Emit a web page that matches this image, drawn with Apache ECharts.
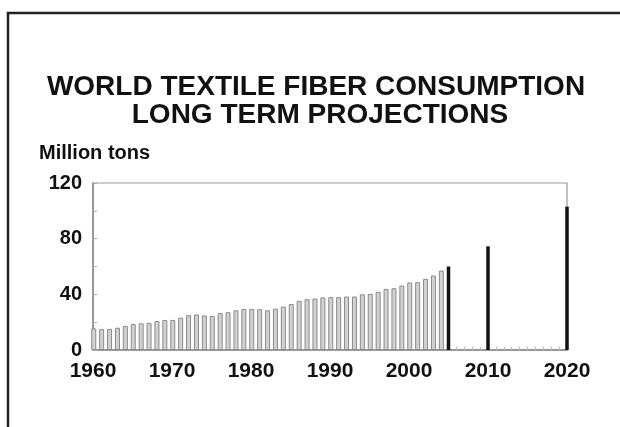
<!DOCTYPE html>
<html><head><meta charset="utf-8">
<script src="https://cdn.jsdelivr.net/npm/echarts@6/dist/echarts.min.js"></script>
<style>html,body{margin:0;padding:0;background:#fff}#c{width:620px;height:427px}</style>
</head><body><div id="c"></div>
<script>
const histYears = [1960,1961,1962,1963,1964,1965,1966,1967,1968,1969,1970,1971,1972,1973,1974,1975,1976,1977,1978,1979,1980,1981,1982,1983,1984,1985,1986,1987,1988,1989,1990,1991,1992,1993,1994,1995,1996,1997,1998,1999,2000,2001,2002,2003,2004];
const histValues = [15.5,15.0,15.2,16.0,17.3,18.6,19.2,19.5,20.8,21.5,21.6,23.2,25.0,25.5,24.8,24.5,26.5,27.2,28.5,29.5,29.5,29.3,28.5,29.7,31.2,33.0,35.3,36.5,37.0,37.8,38.0,38.0,38.4,38.4,40.0,40.3,41.8,43.9,44.4,46.3,48.5,48.7,51.1,53.5,57.1];
const projYears = [2005,2010,2020];
const projValues = [60.0,74.5,103.0];
const yTicks = [0,40,80,120];
const title1 = 'WORLD TEXTILE FIBER CONSUMPTION';
const title2 = 'LONG TERM PROJECTIONS';
const unitLabel = 'Million tons';

const chart = echarts.init(document.getElementById('c'));
const ff = 'Liberation Sans, Arial, sans-serif';
const lab = {fontFamily:ff, fontWeight:'bold', color:'#111'};
chart.setOption({
  backgroundColor:'#fff',
  animation:false,
  title:[
    {text:title1, left:316, textAlign:'center', top:73, padding:0, textStyle:{fontFamily:ff, fontWeight:'bold', fontSize:28, color:'#111'}},
    {text:title2, left:320, textAlign:'center', top:101, padding:0, textStyle:{fontFamily:ff, fontWeight:'bold', fontSize:28, color:'#111'}},
    {text:unitLabel, left:39, top:143, padding:0, textStyle:Object.assign({}, lab, {fontSize:20})}
  ],
  graphic:[{type:'rect', shape:{x:8, y:13, width:640, height:440}, style:{fill:'none', stroke:'#222', lineWidth:2.5}, silent:true}],
  grid:{left:93, right:53, top:183, bottom:77, show:true, borderColor:'#999', borderWidth:1.2, backgroundColor:'transparent'},
  xAxis:{type:'value', min:1960, max:2020, interval:10,
    axisLine:{show:true, lineStyle:{color:'#888', width:1.5}},
    axisTick:{show:true, inside:true, length:4, lineStyle:{color:'#aaa'}},
    minorTick:{show:true, splitNumber:10, length:3, lineStyle:{color:'#bbb'}},
    splitLine:{show:false},
    axisLabel:Object.assign({margin:11, fontSize:21, formatter:v=>String(v)}, lab)},
  yAxis:{type:'value', min:0, max:120, interval:20,
    axisLine:{show:true, lineStyle:{color:'#888', width:1.5}},
    axisTick:{show:true, inside:true, length:4, lineStyle:{color:'#aaa'}},
    splitLine:{show:false},
    axisLabel:Object.assign({margin:11, fontSize:20, formatter:v=>yTicks.includes(v)?String(v):''}, lab)},
  series:[
    {type:'bar', name:'hist', barWidth:5, clip:false,
     data:histYears.map((y,i)=>[y,histValues[i]]),
     itemStyle:{color:'#d2d2d2', borderColor:'#8a8a8a', borderWidth:1}},
    {type:'bar', name:'proj', barWidth:3.5, barGap:'-100%', clip:false,
     data:projYears.map((y,i)=>[y,projValues[i]]),
     itemStyle:{color:'#111'}}
  ]
});
</script></body></html>
